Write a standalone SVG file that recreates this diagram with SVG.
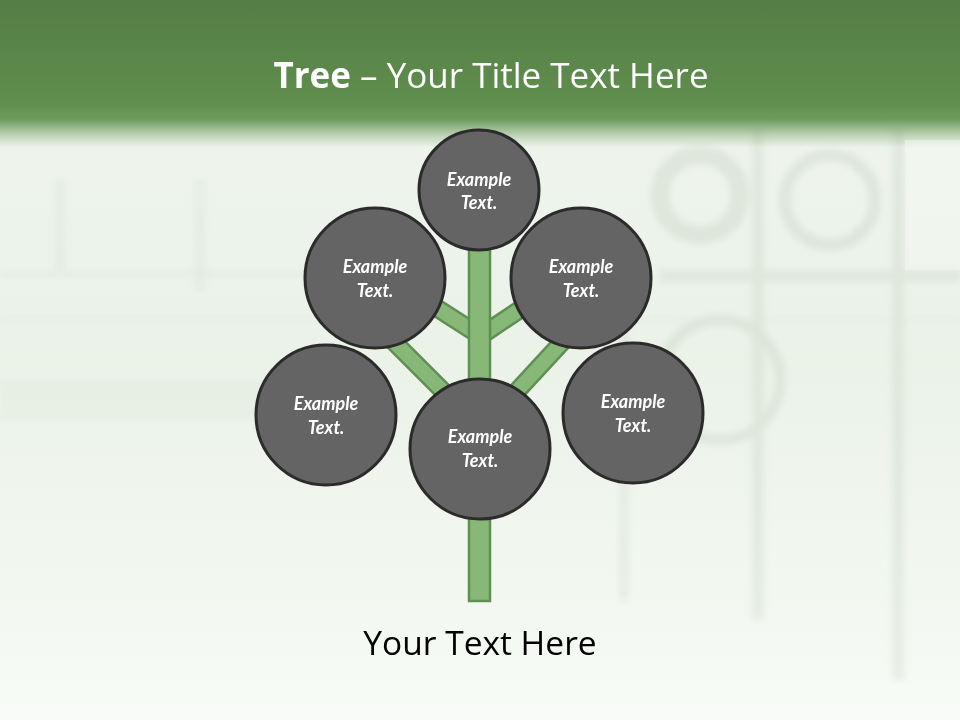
<svg xmlns="http://www.w3.org/2000/svg" width="960" height="720" viewBox="0 0 960 720">
  <defs>
    <linearGradient id="bg" x1="0" y1="0" x2="0" y2="1">
      <stop offset="0" stop-color="#557d46"/>
      <stop offset="0.14" stop-color="#5f8e4d"/>
      <stop offset="0.165" stop-color="#6c9a5d"/>
      <stop offset="0.19" stop-color="#c4d8bd"/>
      <stop offset="0.205" stop-color="#eef4ec"/>
      <stop offset="0.5" stop-color="#ebf2e8"/>
      <stop offset="0.8" stop-color="#f2f7f0"/>
      <stop offset="1" stop-color="#f8fbf7"/>
    </linearGradient>
    <filter id="soft" x="-10%" y="-10%" width="120%" height="120%">
      <feGaussianBlur stdDeviation="3"/>
    </filter>
    <style>
      .node circle { fill: #646464; stroke: #2b2b2b; stroke-width: 3; }
      .node text { font-family: Lato, "Open Sans", "Liberation Sans", sans-serif; font-weight: bold; font-style: italic; font-size: 18px; fill: #ffffff; text-anchor: middle; }
      .edge { stroke: #5f8f55; stroke-width: 19; stroke-linecap: butt; fill: none; }
      .edgeIn { stroke: #88b878; stroke-width: 14; stroke-linecap: butt; fill: none; }
      .tex { fill: #8fa58a; }
    </style>
  </defs>

  <!-- background -->
  <rect x="0" y="0" width="960" height="720" fill="url(#bg)"/>
  <g opacity="0.13" filter="url(#soft)">
    <rect class="tex" x="752" y="120" width="12" height="500"/>
    <rect class="tex" x="892" y="120" width="12" height="560"/>
    <rect class="tex" x="660" y="270" width="300" height="12"/>
    <rect class="tex" x="620" y="300" width="8" height="300"/>
    <circle cx="700" cy="195" r="40" fill="none" stroke="#7d9378" stroke-width="18"/>
    <circle cx="830" cy="200" r="45" fill="none" stroke="#7d9378" stroke-width="12"/>
    <circle cx="720" cy="380" r="60" fill="none" stroke="#7d9378" stroke-width="10"/>
    <rect class="tex" x="55" y="180" width="10" height="90" opacity="0.6"/>
    <rect class="tex" x="195" y="180" width="10" height="110" opacity="0.6"/>
    <rect class="tex" x="0" y="272" width="400" height="4" opacity="0.6"/>
    <rect class="tex" x="0" y="318" width="960" height="3" opacity="0.5"/>
    <rect class="tex" x="0" y="380" width="300" height="40" opacity="0.35"/>
  </g>
  <rect x="905" y="140" width="55" height="130" fill="#f4f8f2" opacity="0.5"/>

  <!-- title -->
  <text x="491" y="88" text-anchor="middle" font-family="Open Sans, Lato, 'Liberation Sans', sans-serif" font-size="35" fill="#ffffff"><tspan font-weight="bold">Tree</tspan> – Your Title Text Here</text>

  <!-- connectors -->
  <g id="connectors">
    <line class="edge" x1="412" y1="292" x2="479" y2="335"/>
    <line class="edge" x1="546" y1="292" x2="479" y2="337"/>
    <line class="edge" x1="372" y1="320" x2="462" y2="410"/>
    <line class="edge" x1="590" y1="312" x2="505" y2="404"/>
    <line class="edgeIn" x1="412" y1="292" x2="479" y2="335"/>
    <line class="edgeIn" x1="546" y1="292" x2="479" y2="337"/>
    <line class="edgeIn" x1="372" y1="320" x2="462" y2="410"/>
    <line class="edgeIn" x1="590" y1="312" x2="505" y2="404"/>
    <rect x="469" y="235" width="21" height="366" fill="#88b878" stroke="#5f8f55" stroke-width="2.5"/>
  </g>

  <!-- nodes -->
  <g id="node-top" class="node">
    <circle cx="479" cy="190" r="60"/>
    <text x="479" y="186">Example</text>
    <text x="479" y="209">Text.</text>
  </g>
  <g id="node-upper-left" class="node">
    <circle cx="375" cy="278" r="70"/>
    <text x="375" y="273">Example</text>
    <text x="375" y="297">Text.</text>
  </g>
  <g id="node-upper-right" class="node">
    <circle cx="581" cy="278" r="70"/>
    <text x="581" y="273">Example</text>
    <text x="581" y="297">Text.</text>
  </g>
  <g id="node-lower-left" class="node">
    <circle cx="326" cy="415" r="70"/>
    <text x="326" y="410">Example</text>
    <text x="326" y="434">Text.</text>
  </g>
  <g id="node-lower-right" class="node">
    <circle cx="633" cy="413" r="70"/>
    <text x="633" y="408">Example</text>
    <text x="633" y="432">Text.</text>
  </g>
  <g id="node-center" class="node">
    <circle cx="480" cy="449" r="70"/>
    <text x="480" y="443">Example</text>
    <text x="480" y="467">Text.</text>
  </g>

  <!-- caption -->
  <text x="480" y="655" text-anchor="middle" font-family="Open Sans, Lato, 'Liberation Sans', sans-serif" font-size="33.5" fill="#000000">Your Text Here</text>
</svg>
